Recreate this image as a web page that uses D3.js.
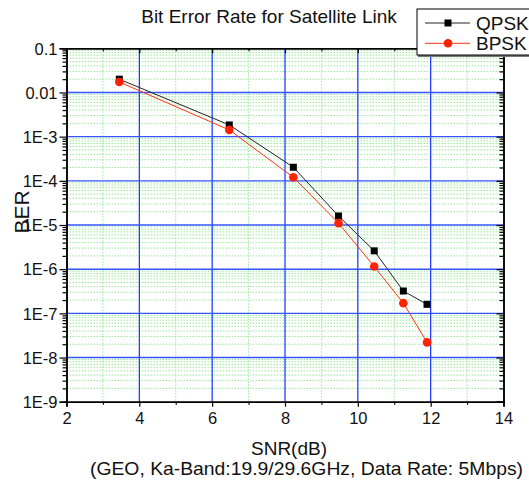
<!DOCTYPE html>
<html><head><meta charset="utf-8">
<script src="https://cdn.jsdelivr.net/npm/d3@7"></script>
<style>body{margin:0;background:#fff}svg{display:block}text{font-family:"Liberation Sans",Arial,sans-serif;fill:#111}</style>
</head><body>
<svg id="c" width="529" height="480"></svg>
<script>
const snr = [3.45, 6.47, 8.23, 9.47, 10.45, 11.25, 11.9];
const qpsk = [0.02, 1.84e-3, 2.03e-4, 1.6e-5, 2.6e-6, 3.2e-7, 1.6e-7];
const bpsk = [0.0173, 1.42e-3, 1.2e-4, 1.1e-5, 1.15e-6, 1.7e-7, 2.2e-8];
const xTicks = [2, 4, 6, 8, 10, 12, 14];
const yTicks = [1e-9, 1e-8, 1e-7, 1e-6, 1e-5, 1e-4, 1e-3, 0.01, 0.1];
const yTickLabels = ["1E-9", "1E-8", "1E-7", "1E-6", "1E-5", "1E-4", "1E-3", "0.01", "0.1"];
const seriesNames = ["QPSK", "BPSK"];

const svg = d3.select("#c");
const L = 66.5, R = 503.5, T = 48.3, B = 401.7;
const x = d3.scaleLinear().domain([2, 14]).range([L, R]);
const y = d3.scaleLog().domain([1e-9, 0.1]).range([B, T]);

const minorX = d3.range(3, 14, 2);
const minorY = [];
for (let e = -9; e < -1; e++) for (let m = 2; m <= 9; m++) minorY.push(m * Math.pow(10, e));

// minor grid
const g = svg.append("g");
g.selectAll(".mx").data(minorX).enter().append("line")
  .attr("x1", d => x(d)).attr("x2", d => x(d)).attr("y1", T).attr("y2", B)
  .attr("stroke", "#9be89b").attr("stroke-width", 1).attr("stroke-dasharray", "1.5,1.5");
g.selectAll(".my").data(minorY).enter().append("line")
  .attr("x1", L).attr("x2", R).attr("y1", d => y(d)).attr("y2", d => y(d))
  .attr("stroke", "#9be89b").attr("stroke-width", 1).attr("stroke-dasharray", "1.5,1.5");
// major grid
g.selectAll(".Mx").data(xTicks.slice(1, -1)).enter().append("line")
  .attr("x1", d => x(d)).attr("x2", d => x(d)).attr("y1", T).attr("y2", B)
  .attr("stroke", "#1030ff").attr("stroke-width", 1.2);
g.selectAll(".My").data(yTicks.slice(1, -1)).enter().append("line")
  .attr("x1", L).attr("x2", R).attr("y1", d => y(d)).attr("y2", d => y(d))
  .attr("stroke", "#3355ff").attr("stroke-width", 1.4);

// axes
function styleAxis(sel) {
  sel.select(".domain").attr("stroke", "#000").attr("stroke-width", 1.5);
  sel.selectAll("line").attr("stroke", "#000").attr("stroke-width", 1.2);
}
const yFmt = d => yTickLabels[yTicks.findIndex(t => Math.abs(t - d) / d < 1e-6)];
// left
const gl = svg.append("g").attr("transform", `translate(${L},0)`);
gl.call(d3.axisLeft(y).tickValues(minorY).tickSize(4).tickFormat("")).call(styleAxis);
const gl2 = svg.append("g").attr("transform", `translate(${L},0)`);
gl2.call(d3.axisLeft(y).tickValues(yTicks).tickSize(7).tickPadding(2).tickFormat(yFmt)).call(styleAxis);
gl2.selectAll("text").attr("font-size", 16.5).attr("dy", "0.35em").style("font-family", '"Liberation Sans",Arial,sans-serif').attr("fill", "#111");
// right
svg.append("g").attr("transform", `translate(${R},0)`)
  .call(d3.axisLeft(y).tickValues(minorY).tickSize(4).tickFormat("")).call(styleAxis);
svg.append("g").attr("transform", `translate(${R},0)`)
  .call(d3.axisLeft(y).tickValues(yTicks).tickSize(7).tickFormat("")).call(styleAxis);
// bottom
svg.append("g").attr("transform", `translate(0,${B})`)
  .call(d3.axisBottom(x).tickValues(minorX).tickSize(3).tickFormat("")).call(styleAxis);
const gb = svg.append("g").attr("transform", `translate(0,${B})`);
gb.call(d3.axisBottom(x).tickValues(xTicks).tickSize(5).tickPadding(6).tickFormat(d3.format("d"))).call(styleAxis);
gb.selectAll("text").attr("font-size", 16.5).style("font-family", '"Liberation Sans",Arial,sans-serif').attr("fill", "#111");
// top
svg.append("g").attr("transform", `translate(0,${T})`)
  .call(d3.axisBottom(x).tickValues(minorX).tickSize(3).tickFormat("")).call(styleAxis);
svg.append("g").attr("transform", `translate(0,${T})`)
  .call(d3.axisBottom(x).tickValues(xTicks).tickSize(5).tickFormat("")).call(styleAxis);

// data
const line = d3.line().x(d => x(d[0])).y(d => y(d[1]));
const qd = snr.map((s, i) => [s, qpsk[i]]);
const bd = snr.map((s, i) => [s, bpsk[i]]);
svg.append("path").datum(qd).attr("d", line).attr("fill", "none").attr("stroke", "#222").attr("stroke-width", 1);
svg.append("path").datum(bd).attr("d", line).attr("fill", "none").attr("stroke", "#ff3311").attr("stroke-width", 1);
svg.selectAll(".q").data(qd).enter().append("rect")
  .attr("x", d => x(d[0]) - 3.5).attr("y", d => y(d[1]) - 3.5).attr("width", 7).attr("height", 7).attr("fill", "#000");
svg.selectAll(".b").data(bd).enter().append("circle")
  .attr("cx", d => x(d[0])).attr("cy", d => y(d[1])).attr("r", 4.3).attr("fill", "#ff2200");

// titles
svg.append("text").attr("x", 269).attr("y", 23).attr("text-anchor", "middle").attr("font-size", 19).text("Bit Error Rate for Satellite Link");
svg.append("text").attr("x", 289).attr("y", 455).attr("text-anchor", "middle").attr("font-size", 19).text("SNR(dB)");
svg.append("text").attr("x", 306.5).attr("y", 474.5).attr("text-anchor", "middle").attr("font-size", 19).attr("textLength", 433).attr("lengthAdjust", "spacingAndGlyphs").text("(GEO, Ka-Band:19.9/29.6GHz, Data Rate: 5Mbps)");
svg.append("text").attr("transform", "translate(29,212) rotate(-90)").attr("text-anchor", "middle").attr("font-size", 21).text("BER");

// legend
const lg = svg.append("g");
lg.append("rect").attr("x", 418).attr("y", 10).attr("width", 130).attr("height", 47).attr("fill", "#777");
lg.append("rect").attr("x", 417).attr("y", 9).attr("width", 130).attr("height", 46).attr("fill", "#fff").attr("stroke", "#000").attr("stroke-width", 1);
const legY = [23, 43.3];
const legColors = ["#222", "#ff3311"];
seriesNames.forEach((n, i) => {
  lg.append("line").attr("x1", 425).attr("x2", 470).attr("y1", legY[i]).attr("y2", legY[i]).attr("stroke", legColors[i]).attr("stroke-width", 1);
  if (i === 0) lg.append("rect").attr("x", 448 - 3.5).attr("y", legY[i] - 3.5).attr("width", 7).attr("height", 7).attr("fill", "#000");
  else lg.append("circle").attr("cx", 448).attr("cy", legY[i]).attr("r", 4.3).attr("fill", "#ff2200");
  lg.append("text").attr("x", 476).attr("y", legY[i] + 6.5).attr("font-size", 19).text(n);
});
</script>
</body></html>
